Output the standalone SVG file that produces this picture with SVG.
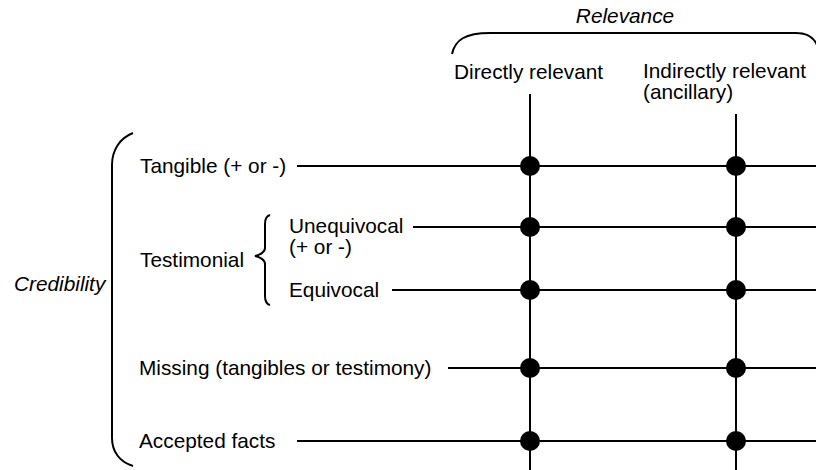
<svg xmlns="http://www.w3.org/2000/svg" width="816" height="470" viewBox="0 0 816 470">
  <style>
    .lbl { font-family: "Liberation Sans", Arial, Helvetica, sans-serif; font-size: 20.8px; fill: #000; }
    .it { font-style: italic; }
    .ln { stroke: #000; stroke-width: 2; fill: none; }
    .br { stroke: #000; stroke-width: 2; fill: none; }
    .dot { fill: #000; }
  </style>
  <rect width="816" height="470" fill="#fff"/>

  <!-- Relevance header with brace -->
  <g id="relevance">
    <text class="lbl it" x="625" y="23" text-anchor="middle">Relevance</text>
    <path class="br" d="M452,54 C455,40 465,33 490,33 L796,33 C808,33 814,38 817,45"/>
  </g>

  <!-- Column headings -->
  <g id="col-direct">
    <text class="lbl" x="454" y="79">Directly relevant</text>
  </g>
  <g id="col-indirect">
    <text class="lbl" x="643" y="78">Indirectly relevant</text>
    <text class="lbl" x="643" y="99">(ancillary)</text>
  </g>

  <!-- Credibility bracket -->
  <g id="credibility">
    <text class="lbl it" x="14" y="291">Credibility</text>
    <path class="br" d="M133,133 C120,138 112,150 112,165 L112,438 C112,452 120,462 133,466"/>
  </g>

  <!-- Row labels -->
  <g id="row-tangible">
    <text class="lbl" x="140" y="173">Tangible (+ or -)</text>
  </g>
  <g id="row-testimonial">
    <text class="lbl" x="140" y="267">Testimonial</text>
    <path class="br" d="M270,215 C266,216 265,219 265,224 L265,248 C265,252 260,255 255,256 C260,257 265,260 265,264 L265,296 C265,301 266,304 270,305"/>
  </g>
  <g id="row-unequivocal">
    <text class="lbl" x="289" y="233">Unequivocal</text>
    <text class="lbl" x="289" y="254">(+ or -)</text>
  </g>
  <g id="row-equivocal">
    <text class="lbl" x="289" y="297">Equivocal</text>
  </g>
  <g id="row-missing">
    <text class="lbl" x="139" y="375">Missing (tangibles or testimony)</text>
  </g>
  <g id="row-accepted">
    <text class="lbl" x="139" y="448">Accepted facts</text>
  </g>

  <!-- Grid connectors -->
  <g id="connectors">
    <line class="ln" x1="530" y1="94" x2="530" y2="470"/>
    <line class="ln" x1="736" y1="114" x2="736" y2="470"/>
    <line class="ln" x1="297" y1="166" x2="816" y2="166"/>
    <line class="ln" x1="413" y1="227" x2="816" y2="227"/>
    <line class="ln" x1="392" y1="290" x2="816" y2="290"/>
    <line class="ln" x1="448" y1="368" x2="816" y2="368"/>
    <line class="ln" x1="297" y1="441" x2="816" y2="441"/>
    <circle class="dot" cx="530" cy="166" r="10"/>
    <circle class="dot" cx="530" cy="227" r="10"/>
    <circle class="dot" cx="530" cy="290" r="10"/>
    <circle class="dot" cx="530" cy="368" r="10"/>
    <circle class="dot" cx="530" cy="441" r="10"/>
    <circle class="dot" cx="736" cy="166" r="10"/>
    <circle class="dot" cx="736" cy="227" r="10"/>
    <circle class="dot" cx="736" cy="290" r="10"/>
    <circle class="dot" cx="736" cy="368" r="10"/>
    <circle class="dot" cx="736" cy="441" r="10"/>
  </g>
</svg>
